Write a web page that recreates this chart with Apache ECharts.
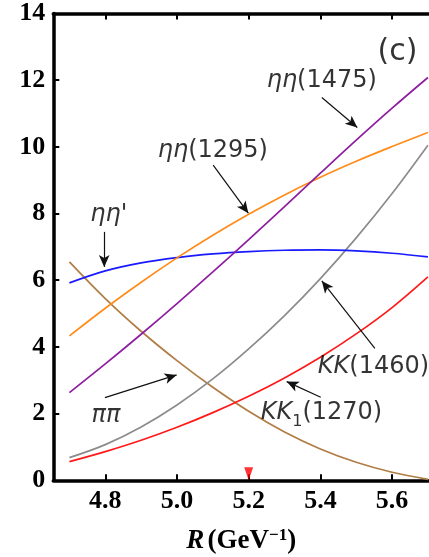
<!DOCTYPE html>
<html>
<head>
<meta charset="utf-8">
<script src="https://cdn.jsdelivr.net/npm/echarts@6/dist/echarts.min.js"></script>
<style>
html,body{margin:0;padding:0;background:#fff;}
#c{width:429px;height:557px;}
</style>
</head>
<body>
<div id="c"></div>
<script>
// ---- data ----
const R = [4.7, 4.8, 4.9, 5.0, 5.1, 5.2, 5.3, 5.4, 5.5, 5.6, 5.7];
const etaEtaPrime = [5.92, 6.28, 6.52, 6.68, 6.79, 6.86, 6.90, 6.91, 6.88, 6.81, 6.70];
const etaEta1295 = [4.33, 5.16, 5.94, 6.67, 7.35, 7.98, 8.56, 9.09, 9.57, 10.01, 10.43];
const etaEta1475 = [2.63, 3.49, 4.38, 5.30, 6.25, 7.22, 8.21, 9.21, 10.20, 11.16, 12.08];
const KK1460 = [0.68, 1.07, 1.60, 2.26, 3.04, 3.94, 4.94, 6.05, 7.27, 8.60, 10.05];
const KK1_1270 = [0.56, 0.86, 1.20, 1.59, 2.03, 2.52, 3.07, 3.69, 4.39, 5.18, 6.10];
const pipi = [6.55, 5.45, 4.47, 3.59, 2.79, 2.07, 1.45, 0.94, 0.54, 0.24, 0.03];
const xTicks = [4.8, 5.0, 5.2, 5.4, 5.6];
const yTicks = [0, 2, 4, 6, 8, 10, 12, 14];
const marker = [[5.2, 0]];
// annotation arrows: [tail, head] in data coordinates
const arrows = [
  [[5.404, 11.48], [5.503, 10.58]],
  [[5.101, 9.45], [5.199, 8.01]],
  [[4.797, 7.45], [4.797, 6.40]],
  [[5.552, 3.96], [5.404, 5.98]],
  [[5.401, 2.49], [5.306, 2.96]],
  [[4.799, 2.48], [4.999, 3.16]]
];
// annotation texts (centre in data coordinates)
const notes = [
  [5.615, 12.84, '{c|(c)}'],
  [5.404, 11.98, '{i|ηη}{n|(1475)}'],
  [5.100, 9.88, '{i|ηη}{n|(1295)}'],
  [4.810, 7.95, "{i|ηη'}"],
  [5.548, 3.42, '{i|KK}{n|(1460)}'],
  [5.403, 2.02, '{i|KK}{sub|1}{n|(1270)}'],
  [4.802, 1.93, '{i|ππ}']
];

const serif = '"Liberation Serif","Times New Roman",serif';
const sans = '"DejaVu Sans",sans-serif';

function zip(ys){ return R.map((x,i)=>[x, ys[i]]); }
function lineSeries(name, ys, color){
  return { name, type:'line', data: zip(ys), smooth:0.35, showSymbol:false, symbol:'none',
    lineStyle:{color, width:1.7}, itemStyle:{color}, z:3, silent:true, clip:true };
}
const nb = {textBorderWidth:0, textBorderColor:'transparent', textShadowBlur:0};

const chart = echarts.init(document.getElementById('c'), null, {renderer:'canvas'});
const axisLine = {show:true, lineStyle:{color:'#000', width:3.5}};
chart.setOption({
  animation:false,
  grid:{left:53.3, right:0, top:13.5, bottom:76.7, containLabel:false, outerBoundsMode:'none'},
  xAxis:[{
    type:'value', min:4.655, max:5.703, position:'bottom',
    axisLine: axisLine,
    axisTick:{show:true, inside:true, length:6, lineStyle:{color:'#000', width:2}, customValues:xTicks},
    axisLabel:{show:true, customValues:xTicks, formatter:v=>v.toFixed(1), color:'#000',
      fontFamily:serif, fontWeight:'bold', fontSize:26, margin:8},
    splitLine:{show:false},
    name:'{i|R} {n|(GeV}{s|−1}{n|)}', nameLocation:'middle', nameGap:47,
    nameTextStyle:{rich:{
      i:{fontFamily:serif, fontWeight:'bold', fontStyle:'italic', fontSize:27, color:'#000'},
      n:{fontFamily:serif, fontWeight:'bold', fontSize:27, color:'#000'},
      s:{fontFamily:serif, fontWeight:'bold', fontSize:17, color:'#000', verticalAlign:'top'}
    }}
  },{
    type:'value', min:4.655, max:5.703, position:'top',
    axisLine: axisLine,
    axisTick:{show:true, inside:true, length:6, lineStyle:{color:'#000', width:2}, customValues:xTicks},
    axisLabel:{show:false}, splitLine:{show:false}
  }],
  yAxis:{
    type:'value', min:0, max:14, interval:2,
    axisLine: axisLine,
    axisTick:{show:true, inside:true, length:6, lineStyle:{color:'#000', width:2}},
    axisLabel:{color:'#000', fontFamily:serif, fontWeight:'bold', fontSize:26, margin:8},
    splitLine:{show:false}
  },
  series:[
    lineSeries('ππ', pipi, '#b07d45'),
    lineSeries('KK1(1270)', KK1_1270, '#ff1a1a'),
    lineSeries('KK(1460)', KK1460, '#8c8c8c'),
    lineSeries("ηη'", etaEtaPrime, '#1a1aff'),
    lineSeries('ηη(1295)', etaEta1295, '#ff8c1a'),
    lineSeries('ηη(1475)', etaEta1475, '#8e1ea0'),
    { type:'line', data:[], silent:true,
      markLine:{ silent:true, animation:false, symbol:['none','arrow'], symbolSize:[8,12],
        lineStyle:{color:'#111', width:1.2, type:'solid'}, label:{show:false},
        emphasis:{disabled:true},
        data: arrows.map(a=>[{coord:a[0]},{coord:a[1]}]) } },
    { type:'scatter', data: notes.map(n=>[n[0], n[1], n[2]]), symbolSize:0, silent:true, z:5,
      itemStyle:{color:'#000'},
      label:Object.assign({show:true, position:'inside', formatter:p=>p.data[2], color:'#000',
        rich:{
          i:Object.assign({fontFamily:sans, fontStyle:'italic', fontSize:24, color:'#000'}, nb),
          n:Object.assign({fontFamily:sans, fontSize:24, color:'#000'}, nb),
          sub:Object.assign({fontFamily:sans, fontSize:16, color:'#000', verticalAlign:'bottom', lineHeight:34}, nb),
          c:Object.assign({fontFamily:sans, fontSize:30, color:'#000'}, nb)
        }}, nb) },
    { type:'scatter', data: marker, symbol:'triangle', symbolRotate:180, symbolSize:[9,13],
      symbolOffset:[0,-6.5], itemStyle:{color:'#ff0000'}, silent:true, z:6, clip:false }
  ]
});
</script>
</body>
</html>
